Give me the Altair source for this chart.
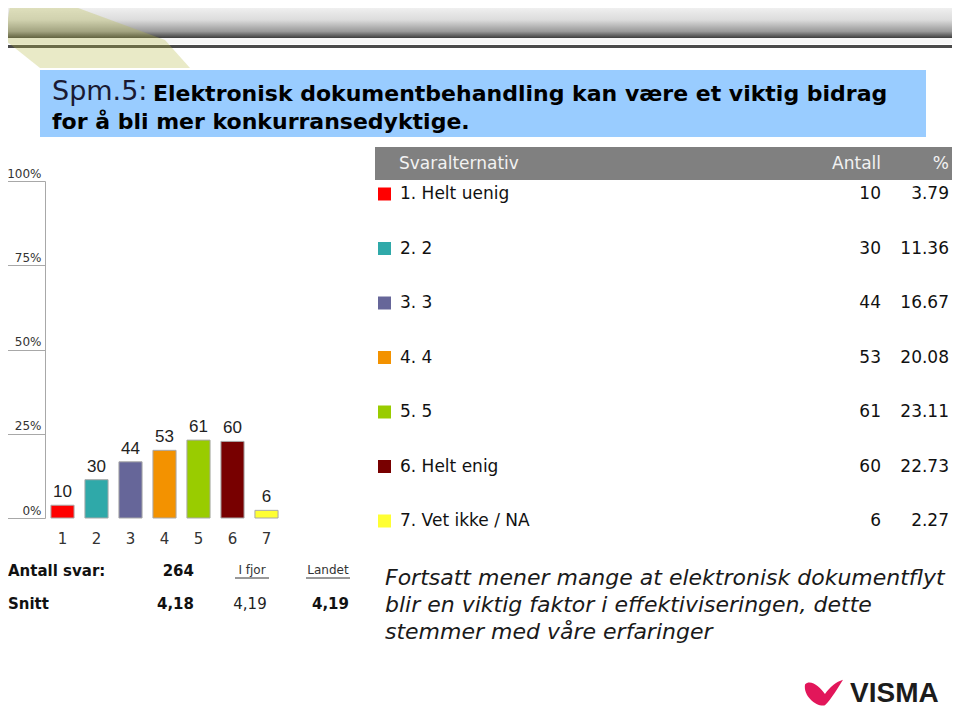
import altair as alt
import pandas as pd

# ---------------- data ----------------
categories = ["1", "2", "3", "4", "5", "6", "7"]
option_labels = ["1. Helt uenig", "2. 2", "3. 3", "4. 4", "5. 5", "6. Helt enig", "7. Vet ikke / NA"]
counts = [10, 30, 44, 53, 61, 60, 6]
percents = [3.79, 11.36, 16.67, 20.08, 23.11, 22.73, 2.27]
bar_colors = ["#ff0000", "#2fa9a9", "#666699", "#f39200", "#99cc00", "#780000", "#ffff33"]
y_ticks = [0, 25, 50, 75, 100]

header_cols = ["Svaralternativ", "Antall", "%"]
title_prefix = "Spm.5:"
title_lines = ["Elektronisk dokumentbehandling kan være et viktig bidrag",
               "for å bli mer konkurransedyktige."]
comment_lines = ["Fortsatt mener mange at elektronisk dokumentflyt",
                 "blir en viktig faktor i effektiviseringen, dette",
                 "stemmer med våre erfaringer"]
stat_labels = ["Antall svar:", "Snitt"]
antall_svar = "264"
snitt = "4,18"
compare_heads = ["I fjor", "Landet"]
compare_vals = ["4,19", "4,19"]
logo_text = "VISMA"

df = pd.DataFrame({
    "cat": categories,
    "label": option_labels,
    "count": counts,
    "pct": percents,
    "color": bar_colors,
    "pct_text": [f"{p:.2f}" for p in percents],
})

W, H = 944, 700
FONT = "DejaVu Sans"


def one(text=""):
    return alt.Chart(pd.DataFrame({"t": [text]}))


# ---------------- decoration: header band ----------------
band = one().mark_rect(
    fill=alt.Gradient(gradient="linear", x1=0, x2=0, y1=0, y2=1,
                      stops=[alt.GradientStop(offset=0, color="#f4f4f4"),
                             alt.GradientStop(offset=0.45, color="#dcdcdc"),
                             alt.GradientStop(offset=0.8, color="#9a9a9a"),
                             alt.GradientStop(offset=1, color="#3e3e3e")])
).encode(x=alt.value(0), x2=alt.value(944), y=alt.value(-3), y2=alt.value(30))
band_white = one().mark_rect(fill="#f6f6f6").encode(
    x=alt.value(0), x2=alt.value(944), y=alt.value(30), y2=alt.value(36))
band_line = one().mark_rect(fill="#4a4a4a").encode(
    x=alt.value(0), x2=alt.value(944), y=alt.value(37), y2=alt.value(40))
ray = one().mark_point(
    shape="M -0.88 -0.31 L -0.28 -0.31 L 0.67 0.04 L 0.92 0.32 L -0.58 0.32 L -0.93 0.04 Z",
    filled=True, fill="#b7bb45", opacity=0.3, size=40000, strokeWidth=0
).encode(x=alt.value(90), y=alt.value(28))

# ---------------- title box ----------------
title_box = one().mark_rect(fill="#99ccff").encode(
    x=alt.value(32), x2=alt.value(918), y=alt.value(62), y2=alt.value(129))
title_pre = one(title_prefix).mark_text(
    align="left", baseline="middle", font=FONT, fontSize=27, color="#1a1a33"
).encode(text="t:N", x=alt.value(44), y=alt.value(84))
title_l1 = one(title_lines[0]).mark_text(
    align="left", baseline="middle", font=FONT, fontSize=22, fontWeight="bold", color="#000000"
).encode(text="t:N", x=alt.value(145), y=alt.value(86))
title_l2 = one(title_lines[1]).mark_text(
    align="left", baseline="middle", font=FONT, fontSize=22, fontWeight="bold", color="#000000"
).encode(text="t:N", x=alt.value(44), y=alt.value(114))

# ---------------- bar chart ----------------
xs = alt.Scale(domain=categories, range=[37.5, 275.5], paddingInner=0.32, paddingOuter=0.16)
ys = alt.Scale(domain=[0, 100], range=[510, 173], nice=False, zero=True)

bars = alt.Chart(df).mark_bar(stroke="#a8a8a8", strokeWidth=1).encode(
    x=alt.X("cat:N", scale=xs, title=None,
            axis=alt.Axis(orient="bottom", offset=-190, domain=False, ticks=False, tickSize=0,
                          labelPadding=13, labelFontSize=15, labelColor="#333333",
                          labelAngle=0, labelFont=FONT)),
    y=alt.Y("pct:Q", scale=ys, title=None,
            axis=alt.Axis(orient="left", offset=-37, values=y_ticks, tickSize=43,
                          tickColor="#a8a8a8", domainColor="#a8a8a8", grid=False,
                          labelPadding=-39, labelAlign="right", labelBaseline="bottom",
                          labelOffset=-1, labelExpr="datum.value + '%'",
                          labelFontSize=12, labelColor="#333333", labelFont=FONT,
                          labelOverlap=False, labelFlush=False)),
    color=alt.Color("color:N", scale=None),
)
bar_labels = alt.Chart(df).mark_text(
    baseline="bottom", dy=-4, font="Liberation Sans", fontSize=17, color="#222222"
).encode(
    x=alt.X("cat:N", scale=xs, axis=None),
    y=alt.Y("pct:Q", scale=ys, axis=None),
    text="count:Q",
)

# ---------------- table ----------------
rs = alt.Scale(type="point", domain=option_labels, range=[186, 513], padding=0)
tbl_head = one().mark_rect(fill="#808080").encode(
    x=alt.value(367), x2=alt.value(944), y=alt.value(139), y2=alt.value(172))
head_1 = one(header_cols[0]).mark_text(
    align="left", baseline="middle", font=FONT, fontSize=17, color="#f2f2f2"
).encode(text="t:N", x=alt.value(391), y=alt.value(156))
head_2 = one(header_cols[1]).mark_text(
    align="right", baseline="middle", font=FONT, fontSize=17, color="#f2f2f2"
).encode(text="t:N", x=alt.value(873), y=alt.value(156))
head_3 = one(header_cols[2]).mark_text(
    align="right", baseline="middle", font=FONT, fontSize=17, color="#f2f2f2"
).encode(text="t:N", x=alt.value(941), y=alt.value(156))

squares = alt.Chart(df).mark_square(size=169, opacity=1, filled=True).encode(
    x=alt.value(376.5),
    y=alt.Y("label:N", scale=rs, axis=None),
    color=alt.Color("color:N", scale=None),
)
row_text = alt.Chart(df).mark_text(
    align="left", baseline="middle", font=FONT, fontSize=17, color="#111111"
).encode(x=alt.value(392), y=alt.Y("label:N", scale=rs, axis=None), text="label:N")
row_count = alt.Chart(df).mark_text(
    align="right", baseline="middle", font=FONT, fontSize=17, color="#111111"
).encode(x=alt.value(873), y=alt.Y("label:N", scale=rs, axis=None), text="count:Q")
row_pct = alt.Chart(df).mark_text(
    align="right", baseline="middle", font=FONT, fontSize=17, color="#111111"
).encode(x=alt.value(941), y=alt.Y("label:N", scale=rs, axis=None), text="pct_text:N")


# ---------------- stats ----------------
def txt(s, x, y, align="left", size=15, weight="normal", color="#111111", style="normal"):
    return one(s).mark_text(align=align, baseline="middle", font=FONT, fontSize=size,
                            fontWeight=weight, fontStyle=style, color=color
                            ).encode(text="t:N", x=alt.value(x), y=alt.value(y))


stat_a = txt(stat_labels[0], 0, 563, weight="bold")
stat_b = txt(stat_labels[1], 0, 596, weight="bold")
stat_n = txt(antall_svar, 186, 563, align="right", weight="bold")
stat_s = txt(snitt, 186, 596, align="right", weight="bold")
head_fjor = txt(compare_heads[0], 244, 562, align="center", size=12, color="#333333")
head_land = txt(compare_heads[1], 320, 562, align="center", size=12, color="#333333")
ul_fjor = one().mark_rule(color="#333333", strokeWidth=1).encode(
    x=alt.value(227), x2=alt.value(261), y=alt.value(570))
ul_land = one().mark_rule(color="#333333", strokeWidth=1).encode(
    x=alt.value(298), x2=alt.value(342), y=alt.value(570))
val_fjor = txt(compare_vals[0], 242, 596, align="center", size=15, color="#222222")
val_land = txt(compare_vals[1], 341, 596, align="right", weight="bold")

comments = [txt(line, 377, 570 + 27 * i, size=22, style="italic", color="#1a1a1a")
            for i, line in enumerate(comment_lines)]

# ---------------- logo ----------------
swoosh = one().mark_point(
    shape="M -1 -0.45 C -0.7 -0.75 -0.2 -0.3 0.05 0.05 C 0.3 -0.3 0.65 -0.6 1 -0.7 "
          "C 0.75 -0.3 0.4 0.3 0.05 0.65 C -0.35 0.75 -1.1 0.2 -1 -0.45 Z",
    filled=True, fill="#e2165a", opacity=1, size=1444, strokeWidth=0
).encode(x=alt.value(816), y=alt.value(685))
logo = one(logo_text).mark_text(
    align="left", baseline="middle", font="Liberation Sans", fontSize=28,
    fontWeight="bold", color="#1c1c1c"
).encode(text="t:N", x=alt.value(842), y=alt.value(686))

layers = [bars, bar_labels, band, band_white, band_line, ray, title_box, title_pre, title_l1,
          title_l2, tbl_head, head_1, head_2, head_3, squares, row_text, row_count, row_pct,
          stat_a, stat_b, stat_n, stat_s, head_fjor, head_land, ul_fjor, ul_land, val_fjor,
          val_land, *comments, swoosh, logo]

chart = alt.layer(*layers).resolve_scale(
    x="independent", y="independent", color="independent"
).properties(
    width=W, height=H, padding=0, autosize="none", background="white"
).configure(font=FONT).configure_view(strokeWidth=0, strokeOpacity=0)

chart.save("out.html", embed_options={"renderer": "svg", "actions": False})
